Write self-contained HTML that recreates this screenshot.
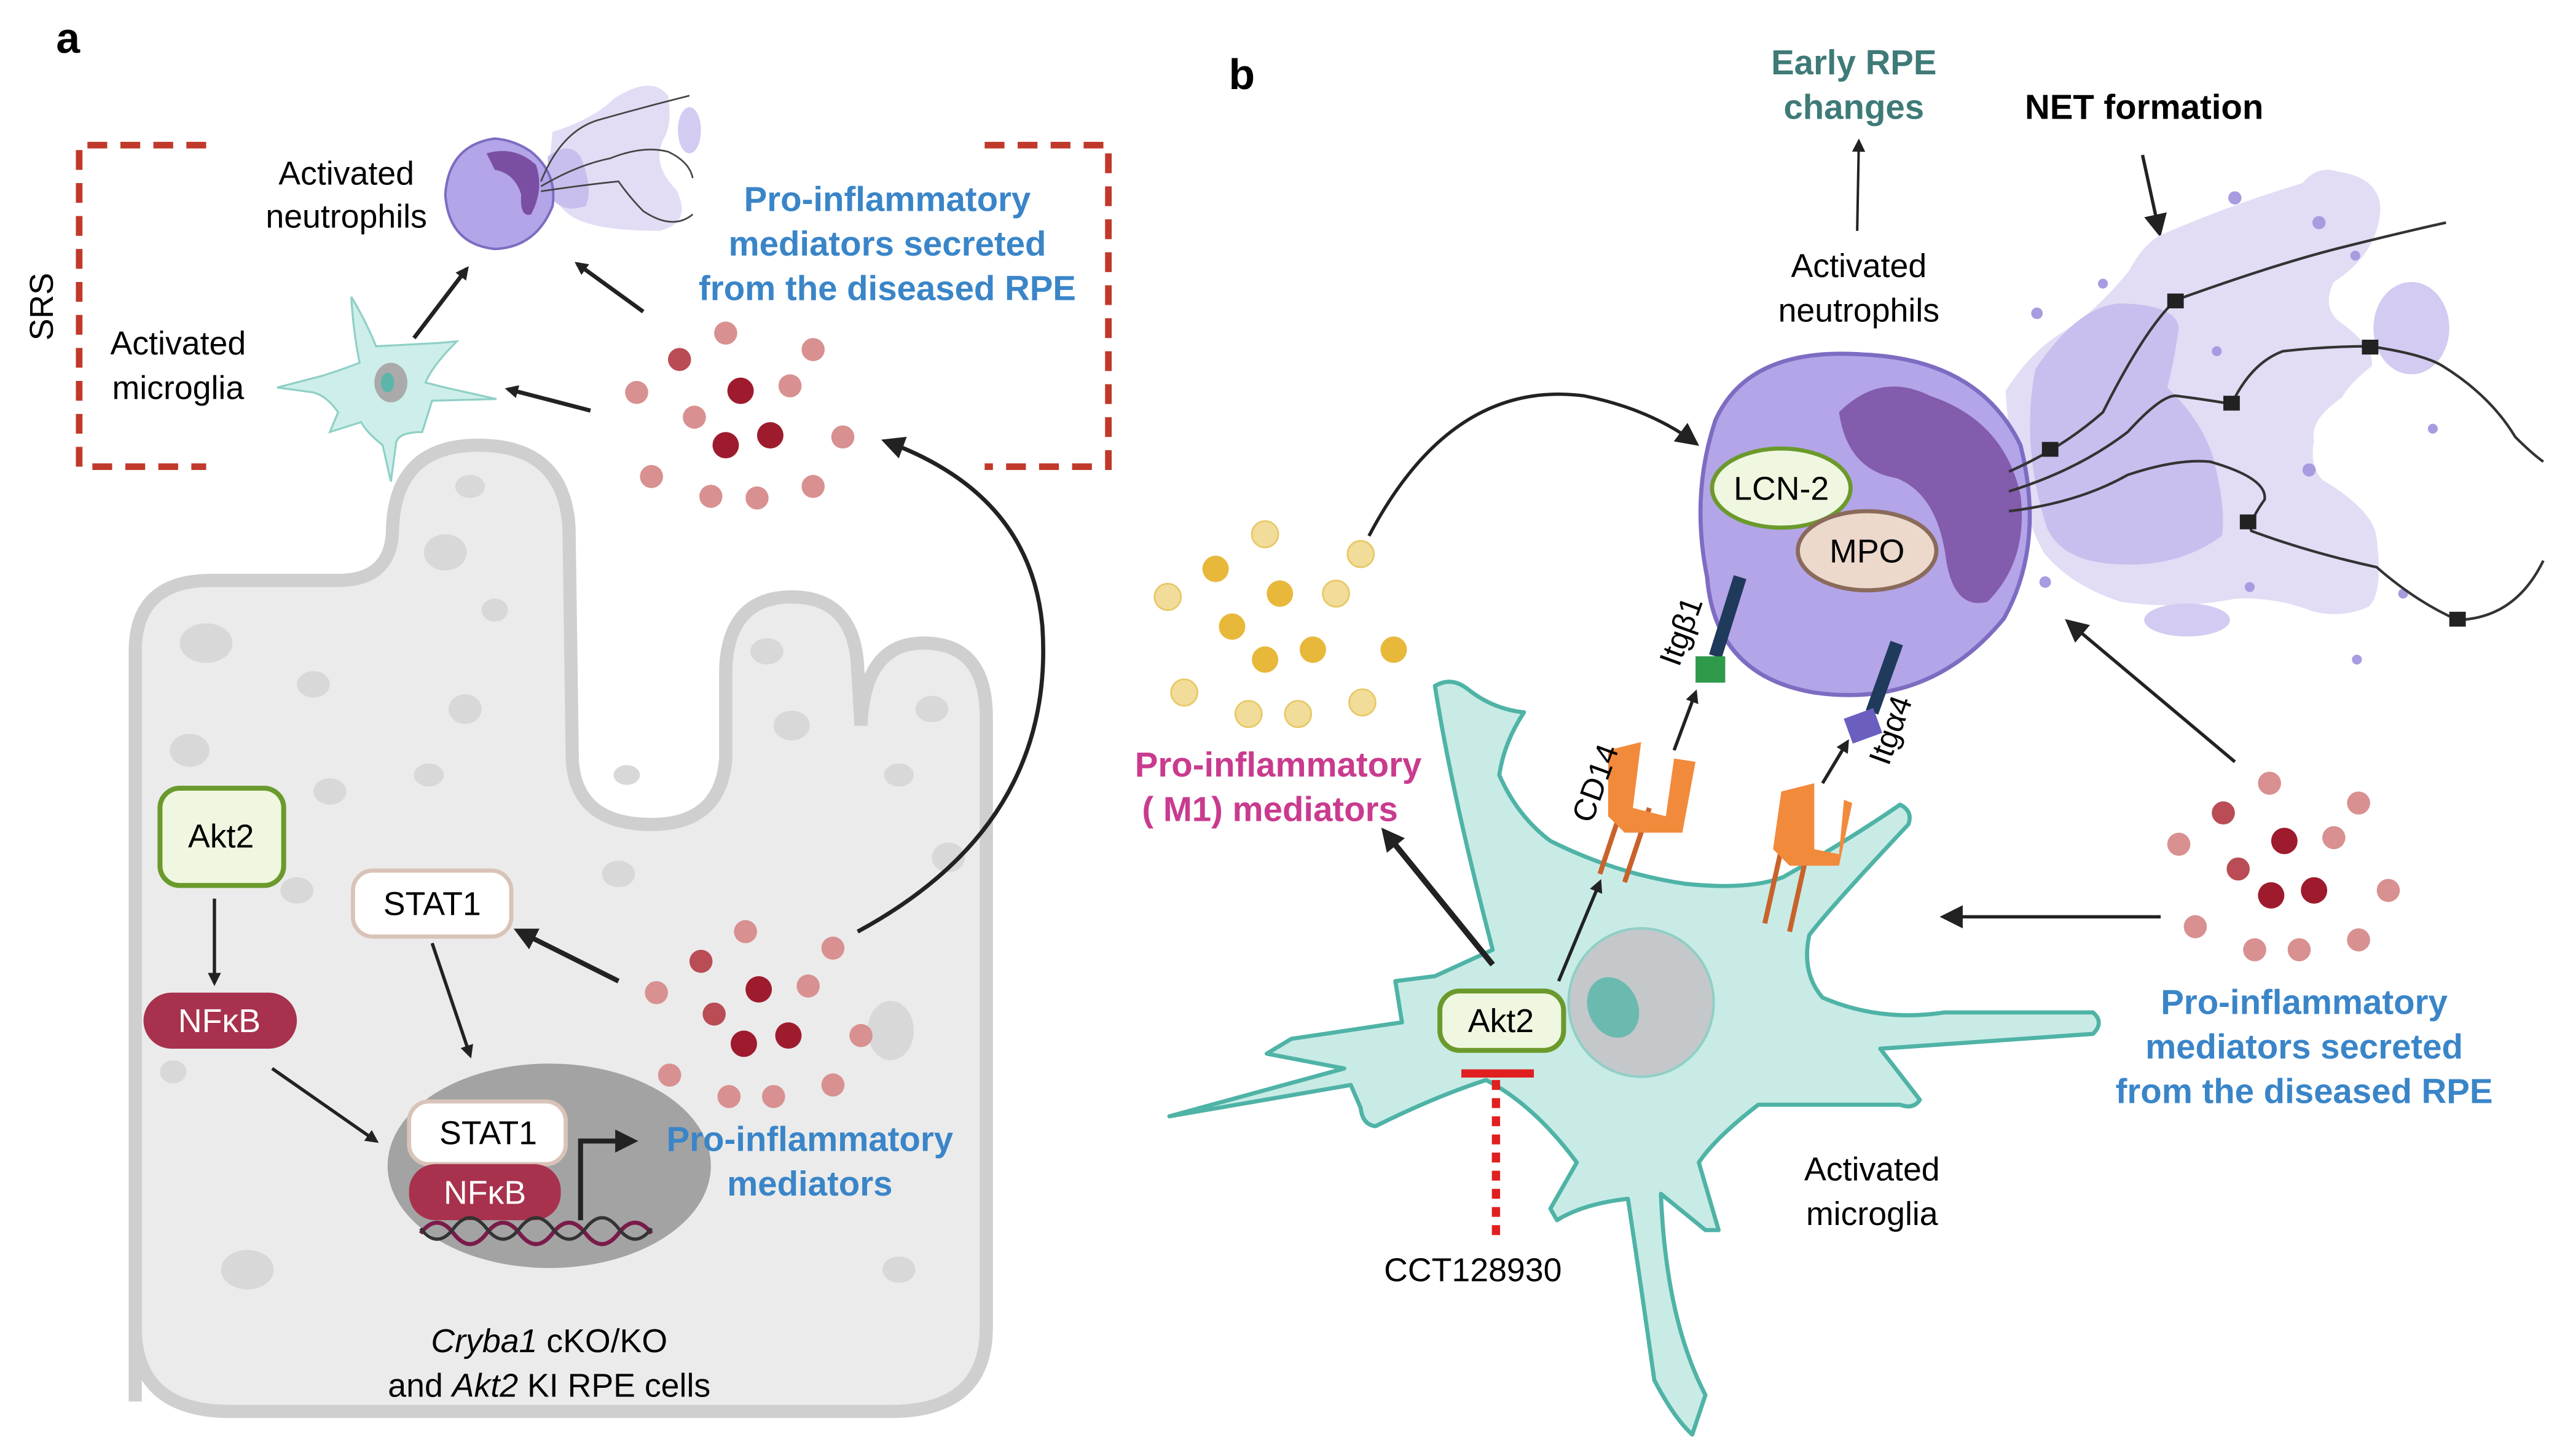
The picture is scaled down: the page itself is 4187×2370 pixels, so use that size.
<!DOCTYPE html>
<html><head><meta charset="utf-8"><style>
html,body{margin:0;padding:0;background:#fff;}
svg{display:block;}
text{font-family:"Liberation Sans",sans-serif;}
</style></head><body>
<svg width="4187" height="2370" viewBox="0 0 1560 883" xmlns="http://www.w3.org/2000/svg">
<defs>
<marker id="ah" markerWidth="8" markerHeight="8" refX="6" refY="4" orient="auto" markerUnits="userSpaceOnUse"><path d="M0,0 L8,4 L0,8 Z" fill="#222"/></marker>
<marker id="ahb" markerWidth="14" markerHeight="14" refX="10" refY="7" orient="auto" markerUnits="userSpaceOnUse"><path d="M0,0 L14,7 L0,14 Z" fill="#222"/></marker>
</defs>
<!-- Panel a -->
<text x="34" y="32" font-size="26" font-weight="bold">a</text>
<g stroke="#c0392b" stroke-width="4" stroke-dasharray="12,8" fill="none">
<path d="M125 88 L48 88 L48 283 L125 283"/>
<path d="M597 88 L672 88 L672 283 L597 283"/>
</g>
<text x="32" y="186" font-size="20" transform="rotate(-90 32 186)" text-anchor="middle">SRS</text>
<text x="108" y="215" font-size="20" text-anchor="middle">Activated</text>
<text x="108" y="242" font-size="20" text-anchor="middle">microglia</text>
<text x="210" y="112" font-size="20" text-anchor="middle">Activated</text>
<text x="210" y="138" font-size="20" text-anchor="middle">neutrophils</text>
<g font-size="21" font-weight="bold" fill="#3a85c8" text-anchor="middle">
<text x="538" y="128">Pro-inflammatory</text>
<text x="538" y="155">mediators secreted</text>
<text x="538" y="182">from the diseased RPE</text>
</g>
<!-- small neutrophil a -->
<path d="M335 80 Q360 72 372 60 Q395 45 405 58 Q408 75 402 85 Q395 100 410 115 Q420 135 400 140 Q370 140 355 135 Q338 130 332 110Z" fill="#e2dcf5"/>
<path d="M332 95 Q345 85 352 95 Q360 115 355 125 Q340 130 333 118Z" fill="#c9bfee"/>
<ellipse cx="418" cy="79" rx="7" ry="14" fill="#d3cbf1"/>
<path d="M322 92 Q338 105 335 125 Q325 150 300 151 Q272 148 270 118 Q272 88 300 84 Q312 85 322 92Z" fill="#b3a5e8" stroke="#7e6cc2" stroke-width="1.5"/>
<path d="M295 93 Q312 88 325 100 Q330 115 322 130 Q315 132 316 118 Q312 105 300 103Z" fill="#7a4fa3"/>
<g stroke="#444" fill="none" stroke-width="1"><path d="M328 110 Q340 80 362 73 Q390 65 418 58"/><path d="M328 113 Q350 100 370 96 Q390 88 405 92 Q418 98 420 108"/><path d="M328 116 Q355 112 375 110 Q382 120 390 128 Q408 140 420 130"/></g>
<!-- small microglia a -->
<path d="M213 180 Q222 195 228 210 L266 208 L277 207 Q262 222 258 232 L270 235 L301 242 L262 243 L256 262 Q240 262 240 270 L237 292 L232 270 Q222 262 219 256 L200 262 L205 250 Q198 240 190 238 L168 235 L195 228 Q205 225 218 220 Q214 200 213 180Z" fill="#cdeeea" stroke="#8fd0c6" stroke-width="1.2"/>
<ellipse cx="237" cy="232" rx="10" ry="12" fill="#aaa"/>
<ellipse cx="235" cy="232" rx="4" ry="6" fill="#5bb5aa"/>
<line x1="251" y1="205" x2="283" y2="163" stroke="#222" stroke-width="2.5" marker-end="url(#ah)"/>
<line x1="390" y1="189" x2="350" y2="160" stroke="#222" stroke-width="2.5" marker-end="url(#ah)"/>
<line x1="358" y1="249" x2="308" y2="236" stroke="#222" stroke-width="2.5" marker-end="url(#ah)"/>
<!-- particles top -->
<g>
<circle cx="440" cy="202" r="7" fill="#d89090"/><circle cx="493" cy="212" r="7" fill="#d89090"/>
<circle cx="412" cy="218" r="7" fill="#b94c55"/><circle cx="449" cy="237" r="8" fill="#9e1b2e"/>
<circle cx="479" cy="234" r="7" fill="#d89090"/><circle cx="386" cy="238" r="7" fill="#d89090"/>
<circle cx="421" cy="253" r="7" fill="#d89090"/><circle cx="440" cy="270" r="8" fill="#9e1b2e"/>
<circle cx="467" cy="264" r="8" fill="#9e1b2e"/><circle cx="511" cy="265" r="7" fill="#d89090"/>
<circle cx="395" cy="289" r="7" fill="#d89090"/><circle cx="431" cy="301" r="7" fill="#d89090"/>
<circle cx="459" cy="302" r="7" fill="#d89090"/><circle cx="493" cy="295" r="7" fill="#d89090"/>
</g>
<!-- RPE cell -->
<path d="M82 850 L82 395 Q82 352 128 352 L205 352 Q238 352 238 320 Q240 270 290 270 Q342 270 345 320 L347 462 Q350 500 395 500 Q437 500 440 460 L440 405 Q442 362 480 362 Q518 362 520 405 L522 440 Q524 390 560 390 Q598 390 598 435 L598 805 Q598 856 540 856 L140 856 Q82 856 82 805Z" fill="#ebebeb" stroke="#cfcfcf" stroke-width="8"/>
<g fill="#d8d8d8">
<ellipse cx="285" cy="295" rx="9" ry="7"/><ellipse cx="270" cy="335" rx="13" ry="11"/><ellipse cx="300" cy="370" rx="8" ry="7"/>
<ellipse cx="282" cy="430" rx="10" ry="9"/><ellipse cx="125" cy="390" rx="16" ry="12"/><ellipse cx="190" cy="415" rx="10" ry="8"/>
<ellipse cx="115" cy="455" rx="12" ry="10"/><ellipse cx="200" cy="480" rx="10" ry="8"/><ellipse cx="180" cy="540" rx="10" ry="8"/>
<ellipse cx="260" cy="470" rx="9" ry="7"/><ellipse cx="465" cy="395" rx="10" ry="8"/><ellipse cx="480" cy="440" rx="11" ry="9"/>
<ellipse cx="565" cy="430" rx="10" ry="8"/><ellipse cx="545" cy="470" rx="9" ry="7"/><ellipse cx="575" cy="520" rx="10" ry="9"/>
<ellipse cx="375" cy="530" rx="10" ry="8"/><ellipse cx="540" cy="625" rx="14" ry="18"/><ellipse cx="150" cy="770" rx="16" ry="12"/>
<ellipse cx="105" cy="650" rx="8" ry="7"/><ellipse cx="545" cy="770" rx="10" ry="8"/><ellipse cx="380" cy="470" rx="8" ry="6"/>
</g>
<rect x="97" y="478" width="75" height="59" rx="12" fill="#f0f7e0" stroke="#6b9a2c" stroke-width="3"/>
<text x="134" y="514" font-size="20" text-anchor="middle">Akt2</text>
<line x1="130" y1="545" x2="130" y2="596" stroke="#222" stroke-width="2" marker-end="url(#ah)"/>
<rect x="87" y="602" width="93" height="34" rx="17" fill="#a8324e"/>
<text x="133" y="626" font-size="20" text-anchor="middle" fill="#fff">NFκB</text>
<rect x="214" y="528" width="96" height="40" rx="12" fill="#fff" stroke="#d9c3b8" stroke-width="2.5"/>
<text x="262" y="555" font-size="20" text-anchor="middle">STAT1</text>
<line x1="262" y1="572" x2="285" y2="640" stroke="#222" stroke-width="2" marker-end="url(#ah)"/>
<line x1="165" y1="648" x2="228" y2="692" stroke="#222" stroke-width="2" marker-end="url(#ah)"/>
<line x1="375" y1="595" x2="315" y2="565" stroke="#222" stroke-width="3" marker-end="url(#ahb)"/>
<ellipse cx="333" cy="707" rx="98" ry="62" fill="#a3a3a3"/>
<rect x="248" y="668" width="95" height="38" rx="12" fill="#fff" stroke="#d9c3b8" stroke-width="2.5"/>
<text x="296" y="694" font-size="20" text-anchor="middle">STAT1</text>
<rect x="248" y="706" width="92" height="34" rx="16" fill="#a8324e"/>
<text x="294" y="730" font-size="20" text-anchor="middle" fill="#fff">NFκB</text>
<path d="M255 748 Q265 735 275 748 T295 748 T315 748 T335 748 T355 748 T375 748 T395 748" stroke="#7a1b4a" stroke-width="2.5" fill="none"/>
<path d="M255 745 Q265 758 275 745 T295 745 T315 745 T335 745 T355 745 T375 745 T395 745" stroke="#333" stroke-width="2" fill="none"/>
<path d="M352 740 L352 692 L383 692" stroke="#222" stroke-width="3" fill="none" marker-end="url(#ahb)"/>
<g font-size="21" font-weight="bold" fill="#3a85c8" text-anchor="middle">
<text x="491" y="698">Pro-inflammatory</text><text x="491" y="725">mediators</text></g>
<text x="333" y="820" font-size="20" text-anchor="middle"><tspan font-style="italic">Cryba1</tspan> cKO/KO</text>
<text x="333" y="847" font-size="20" text-anchor="middle">and <tspan font-style="italic">Akt2</tspan> KI RPE cells</text>
<g>
<circle cx="452" cy="565" r="7" fill="#d89090"/><circle cx="505" cy="575" r="7" fill="#d89090"/>
<circle cx="425" cy="583" r="7" fill="#b94c55"/><circle cx="460" cy="600" r="8" fill="#9e1b2e"/>
<circle cx="490" cy="598" r="7" fill="#d89090"/><circle cx="398" cy="602" r="7" fill="#d89090"/>
<circle cx="433" cy="615" r="7" fill="#b94c55"/><circle cx="451" cy="633" r="8" fill="#9e1b2e"/>
<circle cx="478" cy="628" r="8" fill="#9e1b2e"/><circle cx="522" cy="628" r="7" fill="#d89090"/>
<circle cx="406" cy="652" r="7" fill="#d89090"/><circle cx="442" cy="665" r="7" fill="#d89090"/>
<circle cx="469" cy="665" r="7" fill="#d89090"/><circle cx="505" cy="658" r="7" fill="#d89090"/>
</g>
<path d="M520 565 Q640 500 632 380 Q625 300 538 268" stroke="#222" stroke-width="2.5" fill="none" marker-end="url(#ahb)"/>

<!-- Panel b -->
<text x="745" y="54" font-size="26" font-weight="bold">b</text>
<text x="1124" y="45" font-size="21" font-weight="bold" fill="#3e7a77" text-anchor="middle">Early RPE</text>
<text x="1124" y="72" font-size="21" font-weight="bold" fill="#3e7a77" text-anchor="middle">changes</text>
<line x1="1126" y1="140" x2="1127" y2="86" stroke="#222" stroke-width="1.5" marker-end="url(#ah)"/>
<text x="1300" y="72" font-size="21" font-weight="bold" text-anchor="middle">NET formation</text>
<line x1="1299" y1="94" x2="1309" y2="140" stroke="#222" stroke-width="2" marker-end="url(#ahb)"/>
<text x="1127" y="168" font-size="20" text-anchor="middle">Activated</text>
<text x="1127" y="195" font-size="20" text-anchor="middle">neutrophils</text>
<!-- NET cloud -->
<path d="M1309 143 Q1350 125 1396 111 Q1405 100 1417 104 Q1445 108 1443 130 Q1440 155 1415 171 Q1408 185 1417 194 Q1440 210 1438 222 Q1425 232 1420 241 Q1400 255 1403 267 Q1400 282 1408 291 Q1440 310 1441 327 Q1445 360 1436 368 Q1420 375 1403 371 Q1380 362 1356 363 Q1320 370 1286 365 Q1255 355 1239 335 Q1220 300 1216 237 Q1230 215 1248 203 Q1270 190 1291 164 Q1298 150 1309 143Z" fill="#e2dcf5"/>
<path d="M1234 224 Q1260 185 1286 184 Q1320 185 1321 199 Q1318 220 1314 235 Q1335 255 1342 278 Q1350 310 1347 325 Q1320 345 1281 342 Q1250 340 1241 320 Q1225 270 1234 224Z" fill="#c9bfee"/>
<ellipse cx="1462" cy="199" rx="23" ry="28" fill="#d3cbf1"/>
<ellipse cx="1326" cy="376" rx="26" ry="10" fill="#d3cbf1"/>
<g fill="#a99be0"><circle cx="1355" cy="120" r="4"/><circle cx="1235" cy="190" r="3.5"/><circle cx="1240" cy="353" r="3.5"/><circle cx="1428" cy="155" r="3"/><circle cx="1406" cy="135" r="4"/><circle cx="1400" cy="285" r="4"/><circle cx="1475" cy="260" r="3"/><circle cx="1344" cy="213" r="3"/><circle cx="1364" cy="356" r="3"/><circle cx="1457" cy="360" r="3"/><circle cx="1429" cy="400" r="3"/><circle cx="1275" cy="172" r="3"/></g>
<!-- neutrophil b -->
<path d="M1040 255 Q1060 210 1130 215 Q1200 218 1225 270 Q1240 330 1215 375 Q1170 430 1100 420 Q1040 410 1035 350 Q1025 300 1040 255Z" fill="#b3a5e8" stroke="#7e6cc2" stroke-width="2.5"/>
<path d="M1115 250 Q1140 225 1170 240 Q1215 255 1225 300 Q1230 340 1205 365 Q1185 370 1180 340 Q1175 300 1150 290 Q1120 285 1115 250Z" fill="#7a4fa3" opacity="0.85"/>
<g stroke="#333" stroke-width="1.6" fill="none">
<path d="M1218 286 Q1250 272 1275 250 Q1300 200 1319 182 Q1380 160 1420 150 Q1460 140 1483 135"/>
<path d="M1218 298 Q1260 285 1290 262 Q1310 240 1319 240 Q1335 242 1353 245 Q1365 220 1384 213 Q1410 210 1437 210 Q1470 215 1481 222 Q1510 240 1525 265 Q1535 275 1542 280"/>
<path d="M1218 310 Q1260 305 1290 288 Q1320 278 1340 280 Q1375 290 1373 303 Q1363 317 1365 322 Q1400 335 1441 344 Q1465 365 1490 376 Q1525 375 1542 340"/>
</g>
<g fill="#222"><rect x="1314" y="178" width="10" height="9"/><rect x="1238" y="268" width="10" height="9"/><rect x="1348" y="240" width="10" height="9"/><rect x="1432" y="206" width="10" height="9"/><rect x="1358" y="312" width="10" height="9"/><rect x="1485" y="371" width="10" height="9"/></g>
<ellipse cx="1080" cy="296" rx="42" ry="24" fill="#f0f7e0" stroke="#6b9a2c" stroke-width="2.5"/>
<text x="1080" y="303" font-size="20" text-anchor="middle">LCN-2</text>
<ellipse cx="1132" cy="334" rx="42" ry="24" fill="#ecd9cc" stroke="#8a6a5a" stroke-width="2.5"/>
<text x="1132" y="341" font-size="20" text-anchor="middle">MPO</text>
<!-- microglia b -->
<path d="M709 677 L815 648 L768 639 L783 630 L850 620 L846 595 L870 592 L905 576 Q880 480 870 416 Q880 410 890 418 Q905 430 924 432 Q912 450 909 470 Q920 495 940 510 Q980 530 1022 536 Q1060 540 1081 532 Q1120 510 1152 488 Q1160 492 1157 500 Q1110 550 1097 567 Q1092 590 1105 605 Q1140 620 1179 614 L1269 614 Q1276 620 1269 627 L1140 636 L1164 667 Q1160 673 1152 670 L1066 670 Q1040 690 1030 705 L1042 746 L1034 746 L1007 724 Q1010 800 1034 846 L1026 870 Q1015 860 1003 837 Q995 780 987 727 Q960 730 944 740 L940 733 L956 705 Q930 670 901 655 Q870 665 834 683 Q826 682 825 672 L819 658 Z" fill="#c8ebe6" stroke="#4fb3a6" stroke-width="2.5" stroke-linejoin="round"/>
<ellipse cx="995" cy="608" rx="44" ry="45" fill="#c4c8cb" stroke="#8fcfc6" stroke-width="1.5"/>
<ellipse cx="978" cy="611" rx="15" ry="19" fill="#6bbab0" transform="rotate(-25 978 611)"/>
<!-- receptors -->
<g stroke="#c9622a" stroke-width="3"><line x1="970" y1="530" x2="985" y2="485"/><line x1="985" y1="535" x2="1000" y2="490"/><line x1="1085" y1="565" x2="1095" y2="520"/><line x1="1070" y1="560" x2="1080" y2="515"/></g>
<path d="M975 455 L995 450 L990 490 L1010 495 L1015 460 L1028 462 L1020 505 L985 505 L975 495Z" fill="#f28a3c"/>
<path d="M1080 480 L1100 475 L1100 515 L1115 518 L1118 485 L1123 487 L1115 525 L1085 525 L1075 515Z" fill="#f28a3c"/>
<line x1="1055" y1="350" x2="1040" y2="398" stroke="#1f3a5a" stroke-width="8"/>
<rect x="1028" y="398" width="18" height="16" fill="#2e9a4a"/>
<line x1="1150" y1="390" x2="1135" y2="432" stroke="#1f3a5a" stroke-width="8"/>
<rect x="1120" y="432" width="19" height="16" fill="#6a5fbf" transform="rotate(-20 1130 440)"/>
<text x="1018" y="405" font-size="19" transform="rotate(-70 1018 405)">Itgβ1</text>
<text x="1145" y="465" font-size="19" transform="rotate(-70 1145 465)">Itgα4</text>
<text x="965" y="500" font-size="19" transform="rotate(-70 965 500)">CD14</text>
<line x1="1015" y1="455" x2="1028" y2="420" stroke="#222" stroke-width="2" marker-end="url(#ah)"/>
<line x1="1105" y1="475" x2="1120" y2="450" stroke="#222" stroke-width="2" marker-end="url(#ah)"/>
<line x1="945" y1="595" x2="970" y2="535" stroke="#222" stroke-width="2" marker-end="url(#ah)"/>
<line x1="905" y1="585" x2="840" y2="505" stroke="#222" stroke-width="3.5" marker-end="url(#ahb)"/>
<rect x="873" y="601" width="75" height="36" rx="12" fill="#f0f7e0" stroke="#6b9a2c" stroke-width="3"/>
<text x="910" y="626" font-size="20" text-anchor="middle">Akt2</text>
<line x1="886" y1="651" x2="930" y2="651" stroke="#e02020" stroke-width="5"/>
<line x1="907" y1="655" x2="907" y2="750" stroke="#e02020" stroke-width="5" stroke-dasharray="6,5"/>
<text x="893" y="777" font-size="20" text-anchor="middle">CCT128930</text>
<text x="1135" y="716" font-size="20" text-anchor="middle">Activated</text>
<text x="1135" y="743" font-size="20" text-anchor="middle">microglia</text>
<!-- yellow particles -->
<g fill="#f2dc9a" stroke="#e8c865" stroke-width="1"><circle cx="767" cy="324" r="8"/><circle cx="825" cy="336" r="8"/><circle cx="708" cy="362" r="8"/><circle cx="810" cy="360" r="8"/><circle cx="718" cy="420" r="8"/><circle cx="757" cy="433" r="8"/><circle cx="787" cy="433" r="8"/><circle cx="826" cy="426" r="8"/></g>
<g fill="#e8b83a"><circle cx="737" cy="345" r="8"/><circle cx="776" cy="360" r="8"/><circle cx="747" cy="380" r="8"/><circle cx="767" cy="400" r="8"/><circle cx="796" cy="394" r="8"/><circle cx="845" cy="394" r="8"/></g>
<path d="M830 325 Q880 230 960 240 Q1000 248 1027 268" stroke="#222" stroke-width="2" fill="none" marker-end="url(#ahb)"/>
<g font-size="21" font-weight="bold" fill="#c93b8e" text-anchor="middle"><text x="775" y="471">Pro-inflammatory</text><text x="770" y="498">( M1) mediators</text></g>
<!-- red particles b -->
<g>
<circle cx="1376" cy="475" r="7" fill="#d89090"/><circle cx="1430" cy="487" r="7" fill="#d89090"/>
<circle cx="1348" cy="493" r="7" fill="#b94c55"/><circle cx="1385" cy="510" r="8" fill="#9e1b2e"/>
<circle cx="1415" cy="508" r="7" fill="#d89090"/><circle cx="1321" cy="512" r="7" fill="#d89090"/>
<circle cx="1357" cy="527" r="7" fill="#b94c55"/><circle cx="1377" cy="543" r="8" fill="#9e1b2e"/>
<circle cx="1403" cy="540" r="8" fill="#9e1b2e"/><circle cx="1448" cy="540" r="7" fill="#d89090"/>
<circle cx="1331" cy="562" r="7" fill="#d89090"/><circle cx="1367" cy="576" r="7" fill="#d89090"/>
<circle cx="1394" cy="576" r="7" fill="#d89090"/><circle cx="1430" cy="570" r="7" fill="#d89090"/>
</g>
<line x1="1310" y1="556" x2="1180" y2="556" stroke="#222" stroke-width="2" marker-end="url(#ahb)"/>
<line x1="1355" y1="462" x2="1255" y2="378" stroke="#222" stroke-width="2" marker-end="url(#ahb)"/>
<g font-size="21" font-weight="bold" fill="#3a85c8" text-anchor="middle">
<text x="1397" y="615">Pro-inflammatory</text><text x="1397" y="642">mediators secreted</text><text x="1397" y="669">from the diseased RPE</text></g>
</svg>
</body></html>
